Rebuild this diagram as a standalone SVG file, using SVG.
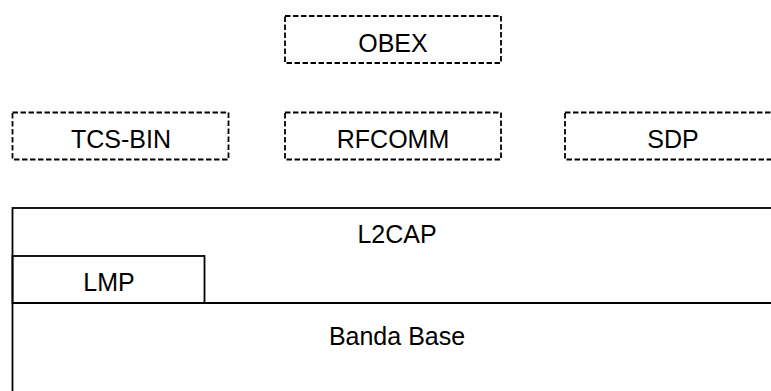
<svg xmlns="http://www.w3.org/2000/svg" width="771" height="391" viewBox="0 0 771 391">
<style>
.dash{fill:none;stroke:#000;stroke-width:1.8;stroke-dasharray:5.5,2.5}
.solid{fill:none;stroke:#000;stroke-width:1.8}
text{font-family:"Liberation Sans",Arial,sans-serif;font-size:25px;fill:#000;text-anchor:middle}
</style>
<rect width="771" height="391" fill="#fff"/>
<g id="obex"><rect class="dash" x="285" y="16" width="216" height="47"/><text x="393" y="52">OBEX</text></g>
<g id="tcsbin"><rect class="dash" x="12.5" y="112.5" width="216" height="47"/><text x="121" y="147.5">TCS-BIN</text></g>
<g id="rfcomm"><rect class="dash" x="285" y="112.5" width="216" height="47"/><text x="393" y="147.5">RFCOMM</text></g>
<g id="sdp"><rect class="dash" x="565" y="112.5" width="216" height="47"/><text x="673" y="147.5">SDP</text></g>
<g id="l2cap"><rect class="solid" x="12.5" y="208" width="770" height="200"/><text x="397" y="243">L2CAP</text></g>
<g id="lmp"><rect class="solid" x="12.5" y="256" width="192" height="47"/><text x="109" y="291">LMP</text></g>
<g id="bandabase"><line class="solid" x1="12.5" y1="303" x2="780" y2="303"/><text x="397" y="345">Banda Base</text></g>
<g id="connectors"></g>
</svg>
